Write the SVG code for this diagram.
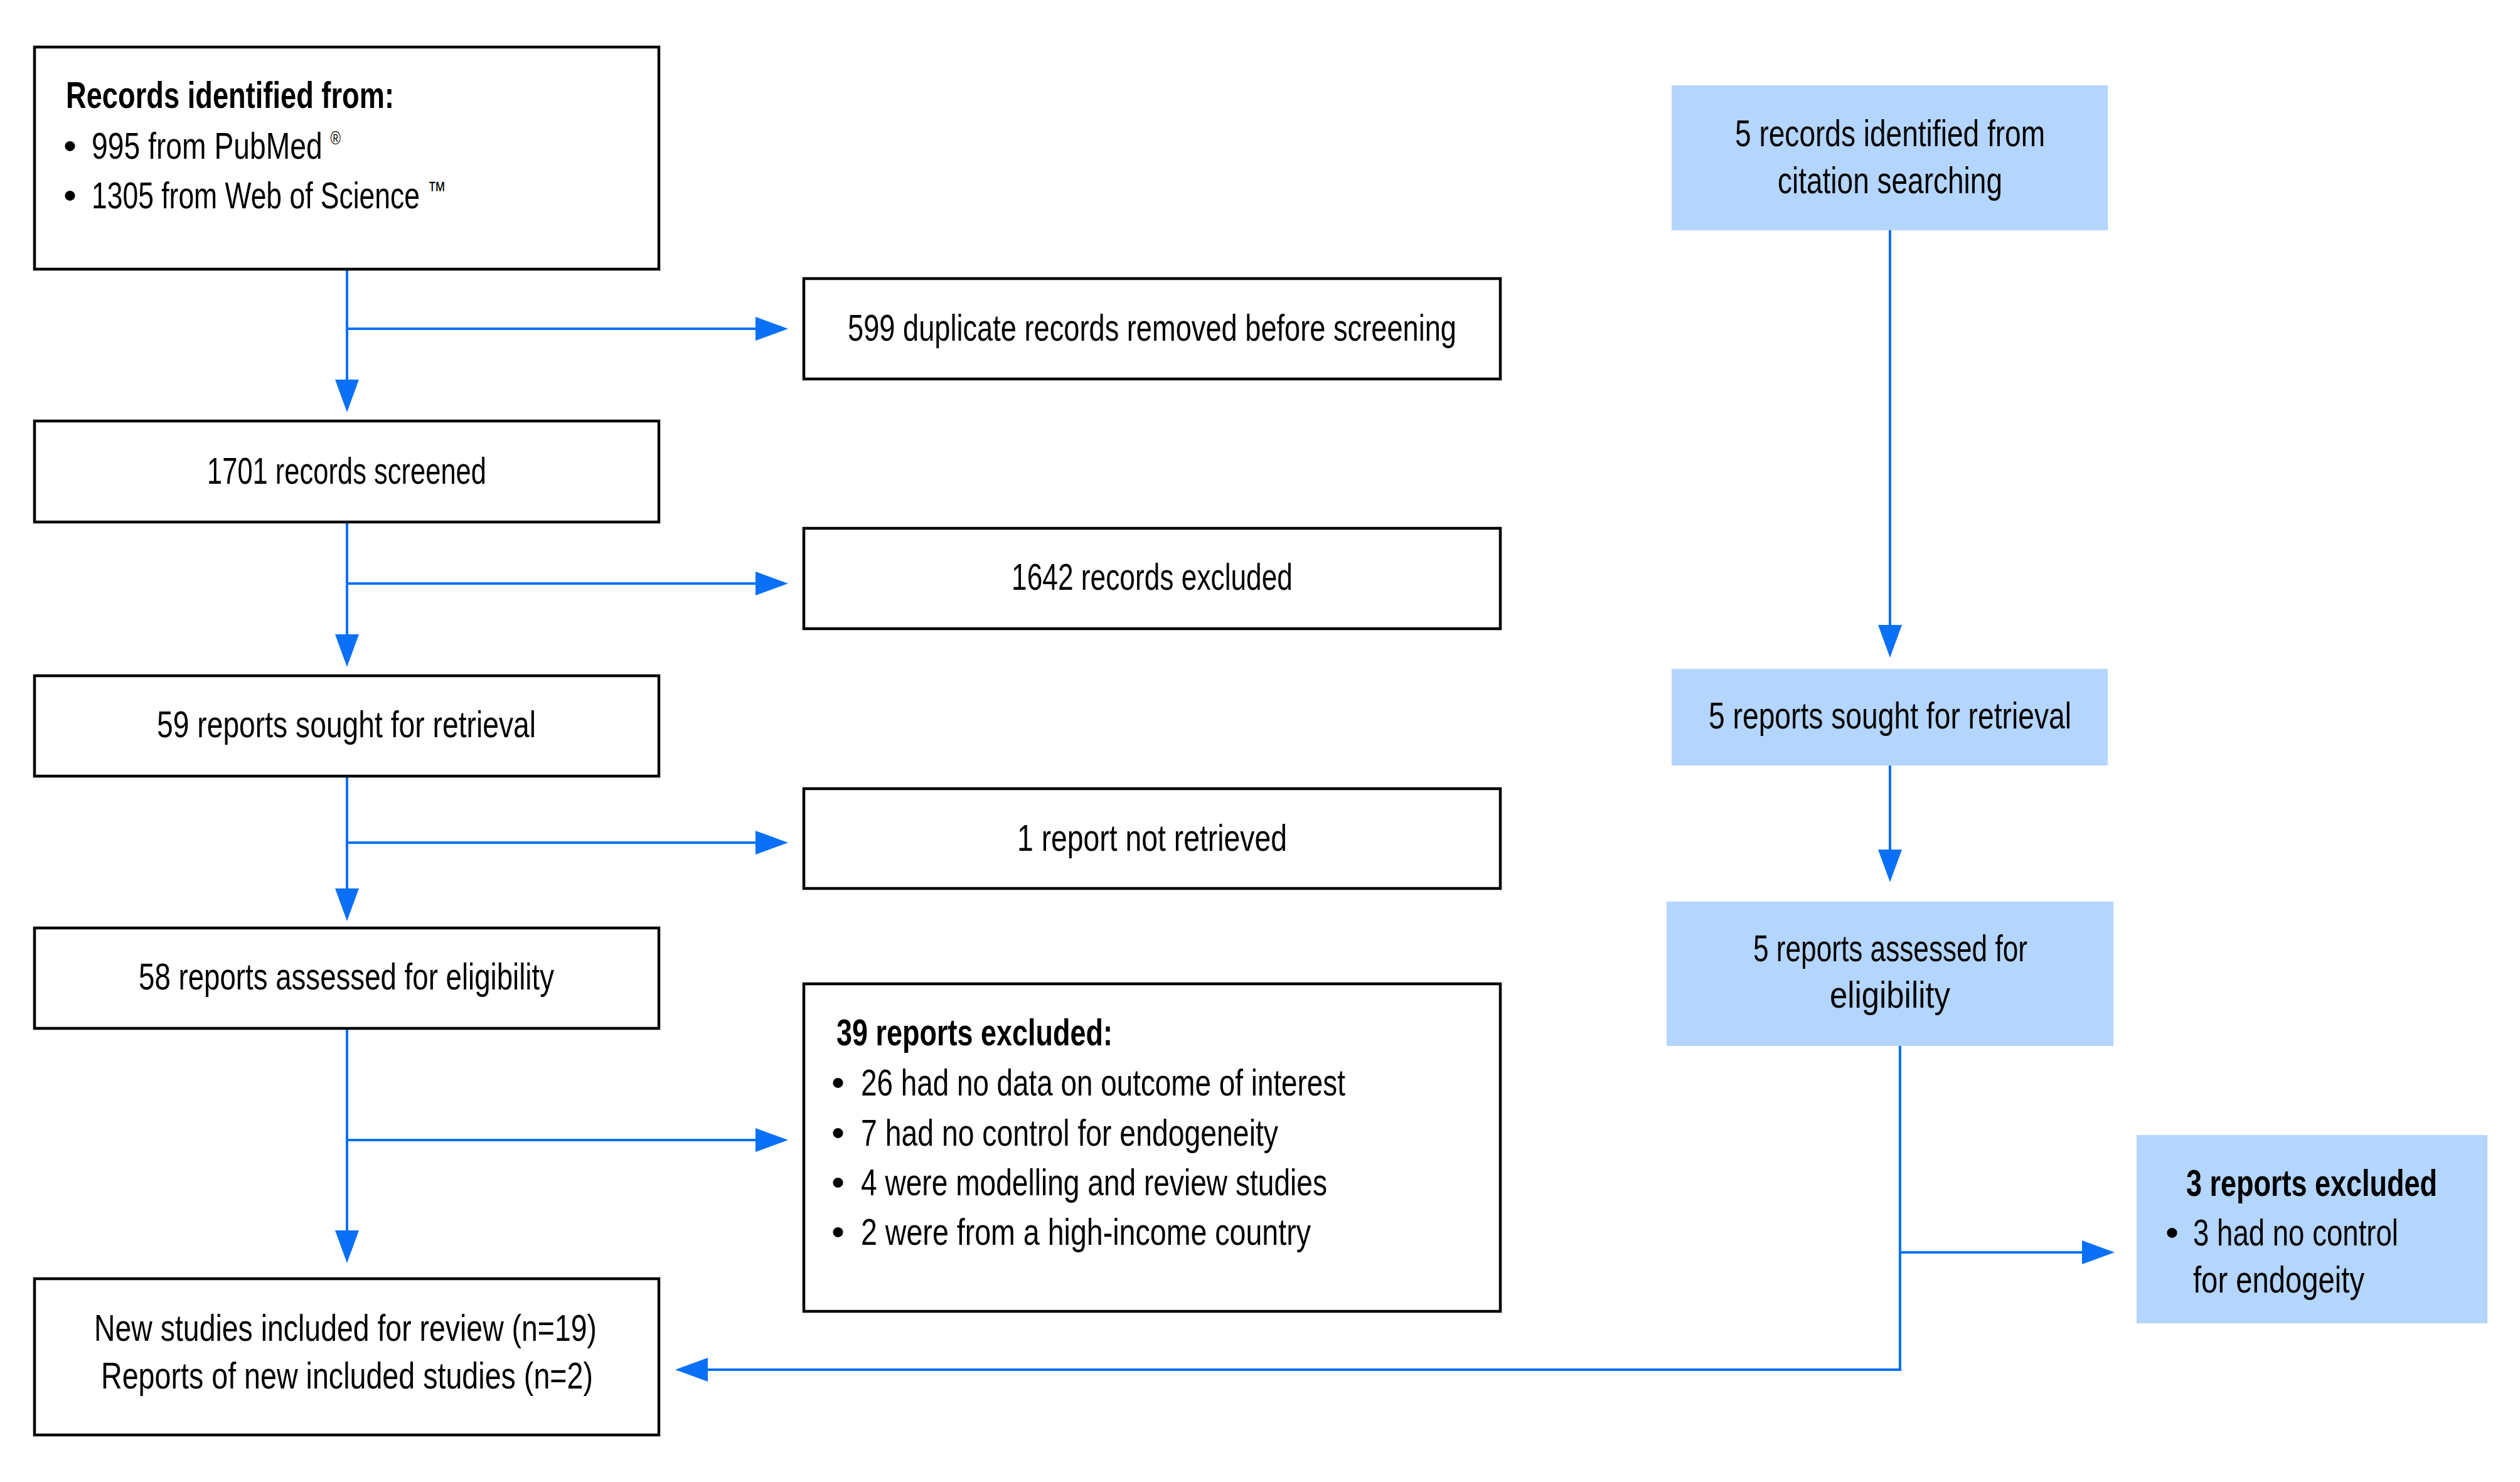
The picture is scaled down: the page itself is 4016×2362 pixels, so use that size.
<svg xmlns="http://www.w3.org/2000/svg" width="4016" height="2362" viewBox="0 0 4016 2362">
<style>
.box{fill:#ffffff;stroke:#000000;stroke-width:4.5}
.bbox{fill:#b4d5fd;stroke:none}
.t{font-family:"Liberation Sans",Arial,sans-serif;font-size:60px;fill:#000000}
.b{font-weight:bold}
.bul{font-family:"Liberation Sans",Arial,sans-serif;font-size:60px;fill:#000000}
.sup{font-size:29px}
.tm{font-size:40px}
.con{fill:none;stroke:#0a70f7;stroke-width:4;marker-end:url(#ah)}
</style>
<defs>
<marker id="ah" markerUnits="userSpaceOnUse" markerWidth="53" markerHeight="38" refX="0" refY="19" orient="auto">
<path d="M0,0 L52,19 L0,38 Z" fill="#0a70f7"/>
</marker>
</defs>
<rect width="4016" height="2362" fill="#ffffff"/>

<g id="connectors">
<path class="con" d="M553,431 V605"/>
<path class="con" d="M553,524 H1204"/>
<path class="con" d="M553,834 V1011"/>
<path class="con" d="M553,930 H1204"/>
<path class="con" d="M553,1239 V1416"/>
<path class="con" d="M553,1343 H1204"/>
<path class="con" d="M553,1641 V1961"/>
<path class="con" d="M553,1817 H1204"/>
<path class="con" d="M3012,367 V996"/>
<path class="con" d="M3012,1220 V1354"/>
<path class="con" d="M3028,1667 V2183 H1128"/>
<path class="con" d="M3028,1996 H3318"/>
</g>

<g id="records-identified">
<rect class="box" x="55" y="75" width="995" height="354"/>
<text class="t b" x="105" y="172" textLength="523" lengthAdjust="spacingAndGlyphs">Records identified from:</text>
<text class="bul" x="101" y="253">•</text>
<text class="t" x="146" y="253" textLength="397" lengthAdjust="spacingAndGlyphs">995 from PubMed <tspan class="sup" dy="-23">®</tspan></text>
<text class="bul" x="101" y="332">•</text>
<text class="t" x="146" y="332" textLength="565" lengthAdjust="spacingAndGlyphs">1305 from Web of Science <tspan class="tm" dy="-15">™</tspan></text>
</g>

<g id="records-screened">
<rect class="box" x="55" y="671" width="995" height="161"/>
<text class="t" x="330" y="771" textLength="445" lengthAdjust="spacingAndGlyphs">1701 records screened</text>
</g>

<g id="reports-sought">
<rect class="box" x="55" y="1077" width="995" height="160"/>
<text class="t" x="250" y="1175" textLength="604" lengthAdjust="spacingAndGlyphs">59 reports sought for retrieval</text>
</g>

<g id="reports-assessed">
<rect class="box" x="55" y="1479" width="995" height="160"/>
<text class="t" x="221" y="1577" textLength="662" lengthAdjust="spacingAndGlyphs">58 reports assessed for eligibility</text>
</g>

<g id="studies-included">
<rect class="box" x="55" y="2038" width="995" height="249"/>
<text class="t" x="150" y="2137" textLength="801" lengthAdjust="spacingAndGlyphs">New studies included for review (n=19)</text>
<text class="t" x="161" y="2213" textLength="784" lengthAdjust="spacingAndGlyphs">Reports of new included studies (n=2)</text>
</g>

<g id="duplicates-removed">
<rect class="box" x="1281" y="444" width="1110" height="160"/>
<text class="t" x="1351" y="543" textLength="970" lengthAdjust="spacingAndGlyphs">599 duplicate records removed before screening</text>
</g>

<g id="records-excluded">
<rect class="box" x="1281" y="842" width="1110" height="160"/>
<text class="t" x="1612" y="940" textLength="448" lengthAdjust="spacingAndGlyphs">1642 records excluded</text>
</g>

<g id="not-retrieved">
<rect class="box" x="1281" y="1257" width="1110" height="159"/>
<text class="t" x="1621" y="1356" textLength="430" lengthAdjust="spacingAndGlyphs">1 report not retrieved</text>
</g>

<g id="reports-excluded">
<rect class="box" x="1281" y="1568" width="1110" height="522"/>
<text class="t b" x="1333" y="1666" textLength="440" lengthAdjust="spacingAndGlyphs">39 reports excluded:</text>
<text class="bul" x="1325" y="1746">•</text>
<text class="t" x="1372" y="1746" textLength="772" lengthAdjust="spacingAndGlyphs">26 had no data on outcome of interest</text>
<text class="bul" x="1325" y="1826">•</text>
<text class="t" x="1372" y="1826" textLength="665" lengthAdjust="spacingAndGlyphs">7 had no control for endogeneity</text>
<text class="bul" x="1325" y="1905">•</text>
<text class="t" x="1372" y="1905" textLength="743" lengthAdjust="spacingAndGlyphs">4 were modelling and review studies</text>
<text class="bul" x="1325" y="1984">•</text>
<text class="t" x="1372" y="1984" textLength="717" lengthAdjust="spacingAndGlyphs">2 were from a high-income country</text>
</g>

<g id="citation-identified">
<rect class="bbox" x="2664" y="136" width="695" height="231"/>
<text class="t" x="2765" y="233" textLength="494" lengthAdjust="spacingAndGlyphs">5 records identified from</text>
<text class="t" x="2833" y="308" textLength="358" lengthAdjust="spacingAndGlyphs">citation searching</text>
</g>

<g id="citation-sought">
<rect class="bbox" x="2664" y="1066" width="695" height="154"/>
<text class="t" x="2723" y="1161" textLength="578" lengthAdjust="spacingAndGlyphs">5 reports sought for retrieval</text>
</g>

<g id="citation-assessed">
<rect class="bbox" x="2656" y="1437" width="712" height="230"/>
<text class="t" x="2794" y="1532" textLength="437" lengthAdjust="spacingAndGlyphs">5 reports assessed for</text>
<text class="t" x="2916" y="1606" textLength="192" lengthAdjust="spacingAndGlyphs">eligibility</text>
</g>

<g id="citation-excluded">
<rect class="bbox" x="3405" y="1809" width="559" height="300"/>
<text class="t b" x="3484" y="1906" textLength="400" lengthAdjust="spacingAndGlyphs">3 reports excluded</text>
<text class="bul" x="3451" y="1985">•</text>
<text class="t" x="3495" y="1985" textLength="327" lengthAdjust="spacingAndGlyphs">3 had no control</text>
<text class="t" x="3495" y="2060" textLength="273" lengthAdjust="spacingAndGlyphs">for endogeity</text>
</g>
</svg>
